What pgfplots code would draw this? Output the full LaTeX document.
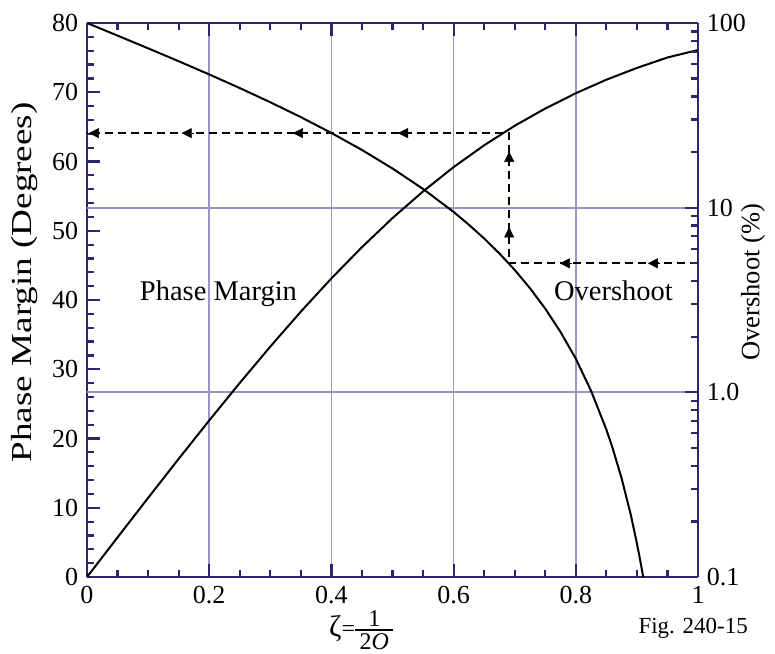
\documentclass[border=0pt]{standalone}
\usepackage{fontspec}
\setmainfont{Liberation Serif}
\usepackage{graphicx}
\usepackage{pgfplots}
\pgfplotsset{compat=1.18}
\usetikzlibrary{arrows.meta}
\definecolor{axisnavy}{RGB}{42,38,112}
\definecolor{gridpurple}{RGB}{156,148,200}
\newcommand\myfrac{\ensuremath{\vcenter{\tabskip=4.5bp\halign{\hfil##\hfil\cr 1\cr\noalign{\kern3bp\hrule height 1.3bp\kern2.5bp} 2\textit{O}\cr}}}}

\begin{document}
\fontsize{26bp}{31bp}\selectfont
\begin{tikzpicture}
\pgfplotsset{
  common/.style={
    scale only axis, width=611bp, height=554bp,
    xmin=0, xmax=1,
    axis line style={axisnavy, line width=2.4bp},
    every tick/.style={axisnavy, line width=2.2bp},
    major tick length=13bp, minor tick length=7bp,
    tick align=inside,
    /pgf/number format/assume math mode=true,
    tick label style={font=\fontsize{26bp}{31bp}\selectfont},
    label style={font=\fontsize{26bp}{31bp}\selectfont},
  },
  arr/.style={solid, black, line width=0.5bp, -{Triangle[length=10bp,width=10bp]}},
}
\begin{axis}[common, name=main,
  ymin=0, ymax=80,
  axis y line*=left,
  xtick={0,0.2,0.4,0.6,0.8,1}, xticklabels={0,0.2,0.4,0.6,0.8,1},
  minor x tick num=3, xtick pos=both,
  ytick={0,10,20,30,40,50,60,70,80}, yticklabels={0,10,20,30,40,50,60,70,80},
  minor y tick num=4,
  xmajorgrids,
  grid style={gridpurple, line width=1.7bp},
  extra y ticks={26.6667,53.3333}, extra y tick labels={},
  extra y tick style={grid=major, major tick length=0pt},
  ylabel={\scalebox{1.28}[1]{Phase Margin (Degrees)}},
  ylabel style={at={(axis description cs:-0.1015,0.532)}, anchor=center, font=\fontsize{29bp}{34bp}\selectfont},
  xlabel={{\fontsize{30bp}{34bp}\selectfont ζ}=\myfrac},
  xlabel style={at={(axis description cs:0.449,-0.0955)}, anchor=center, inner sep=0pt, font=\fontsize{24bp}{28bp}\selectfont},
]
\addplot[black, line width=2bp] coordinates {
(0,0) (0.05,5.72) (0.1,11.42) (0.15,17.06) (0.2,22.60) (0.25,28.02) (0.3,33.27)
(0.35,38.32) (0.4,43.12) (0.45,47.63) (0.5,51.83) (0.55,55.68) (0.6,59.19)
(0.65,62.34) (0.7,65.16) (0.75,67.65) (0.8,69.86) (0.85,71.81) (0.9,73.51)
(0.95,75.02) (1,76.10)};
\addplot[black, line width=2bp, dash pattern=on 8bp off 5bp] coordinates {
(1,45.3) (0.691,45.3) (0.691,64.1) (0,64.1)};
\addplot[arr] coordinates {(0.02,64.1) (0.003,64.1)};
\addplot[arr] coordinates {(0.175,64.1) (0.155,64.1)};
\addplot[arr] coordinates {(0.357,64.1) (0.337,64.1)};
\addplot[arr] coordinates {(0.529,64.1) (0.509,64.1)};
\addplot[arr] coordinates {(0.794,45.3) (0.774,45.3)};
\addplot[arr] coordinates {(0.938,45.3) (0.918,45.3)};
\addplot[arr] coordinates {(0.691,48.5) (0.691,50.5)};
\addplot[arr] coordinates {(0.691,59.4) (0.691,61.4)};
\node[anchor=base, font=\fontsize{28.5bp}{33bp}\selectfont] at (axis cs:0.2152,40.0) {Phase Margin};
\node[anchor=base, font=\fontsize{28.5bp}{33bp}\selectfont] at (axis cs:0.8617,40.0) {Overshoot};
\end{axis}
\begin{axis}[common,
  ymode=log, ymin=0.1, ymax=100,
  axis x line=none, axis y line*=right,
  ytick={0.1,1,10,100}, yticklabels={0.1,1.0,10,100},
  minor ytick={0.2,0.3,0.4,0.5,0.6,0.7,0.8,0.9,2,3,4,5,6,7,8,9,20,30,40,50,60,70,80,90},
  ytick pos=right,
  ylabel={Overshoot (\%)},
  ylabel style={at={(axis description cs:1.090,0.532)}, anchor=center, rotate=0, font=\fontsize{26.5bp}{31bp}\selectfont},
]
\addplot[black, line width=2bp] coordinates {
(0,100) (0.05,85.45) (0.1,72.92) (0.15,62.09) (0.2,52.66) (0.25,44.43) (0.3,37.23)
(0.35,30.92) (0.4,25.38) (0.45,20.53) (0.5,16.30) (0.55,12.63) (0.6,9.48)
(0.625,8.08) (0.65,6.81) (0.675,5.647) (0.7,4.60) (0.725,3.663) (0.75,2.84)
(0.775,2.123) (0.8,1.52) (0.825,1.019) (0.85,0.629) (0.86,0.502) (0.875,0.342)
(0.89,0.2173) (0.9,0.152) (0.905,0.1252) (0.9103,0.1)};
\end{axis}
\node[anchor=base east, inner sep=0pt, font=\fontsize{23bp}{27bp}\selectfont] at ([xshift=50bp,yshift=-56bp]main.south east) {Fig. 240-15};
\pgfresetboundingbox
\path[use as bounding box] (-87bp,-77bp) rectangle (688bp,577bp);
\end{tikzpicture}
\end{document}
